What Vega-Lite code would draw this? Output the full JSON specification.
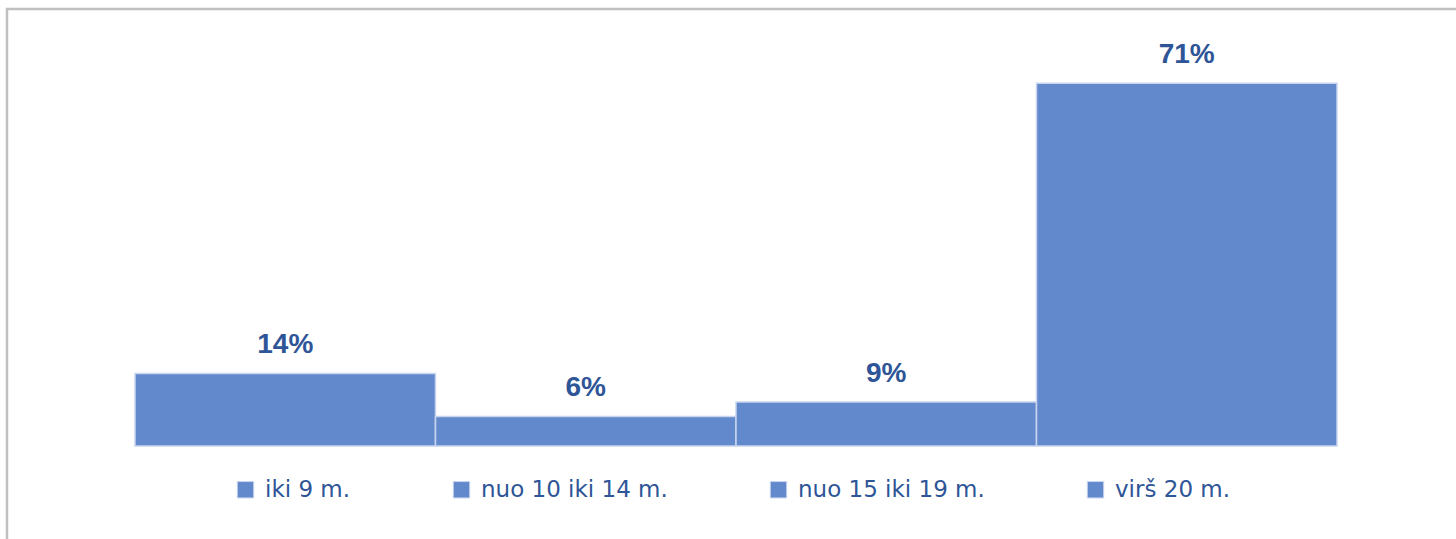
{
  "$schema": "https://vega.github.io/schema/vega-lite/v6.json",
  "width": 1458,
  "height": 540,
  "autosize": {"type": "none"},
  "padding": {"left": 7, "top": 9, "right": 0, "bottom": 0},
  "background": "white",
  "config": {
    "view": {"stroke": "#C0C0C0", "strokeWidth": 2.5}
  },
  "data": {
    "values": [
      {"cat": "iki 9 m.", "pct": 14.2, "label": "14%"},
      {"cat": "nuo 10 iki 14 m.", "pct": 5.8, "label": "6%"},
      {"cat": "nuo 15 iki 19 m.", "pct": 8.6, "label": "9%"},
      {"cat": "virš 20 m.", "pct": 71, "label": "71%"}
    ]
  },
  "layer": [
    {
      "mark": {"type": "bar", "stroke": "#C8D5EE", "strokeWidth": 1.5},
      "encoding": {
        "x": {
          "field": "cat",
          "type": "nominal",
          "sort": ["iki 9 m.", "nuo 10 iki 14 m.", "nuo 15 iki 19 m.", "virš 20 m."],
          "scale": {"paddingInner": 0, "paddingOuter": 0.426},
          "axis": null
        },
        "y": {
          "field": "pct",
          "type": "quantitative",
          "scale": {"domain": [-20.16, 85.55], "nice": false, "zero": false},
          "axis": null
        },
        "color": {
          "field": "cat",
          "type": "nominal",
          "scale": {
            "domain": ["iki 9 m.", "nuo 10 iki 14 m.", "nuo 15 iki 19 m.", "virš 20 m."],
            "range": ["#6389CD", "#6389CD", "#6389CD", "#6389CD"]
          },
          "legend": {
            "title": null,
            "orient": "none",
            "legendX": 227,
            "legendY": 469,
            "direction": "horizontal",
            "columns": 4,
            "columnPadding": 99,
            "padding": 0,
            "symbolType": "square",
            "symbolSize": 270,
            "symbolStrokeColor": "#C8D5EE",
            "symbolStrokeWidth": 1,
            "symbolFillColor": "#6389CD",
            "labelFont": "DejaVu Sans",
            "labelFontSize": 23,
            "labelColor": "#2E5597",
            "labelOffset": 8,
            "labelLimit": 400
          }
        }
      }
    },
    {
      "mark": {
        "type": "text",
        "font": "Liberation Sans",
        "fontWeight": "bold",
        "fontSize": 28,
        "color": "#2E5597",
        "baseline": "alphabetic",
        "dy": -20
      },
      "encoding": {
        "x": {
          "field": "cat",
          "type": "nominal",
          "sort": ["iki 9 m.", "nuo 10 iki 14 m.", "nuo 15 iki 19 m.", "virš 20 m."]
        },
        "y": {"field": "pct", "type": "quantitative"},
        "text": {"field": "label"}
      }
    }
  ]
}
